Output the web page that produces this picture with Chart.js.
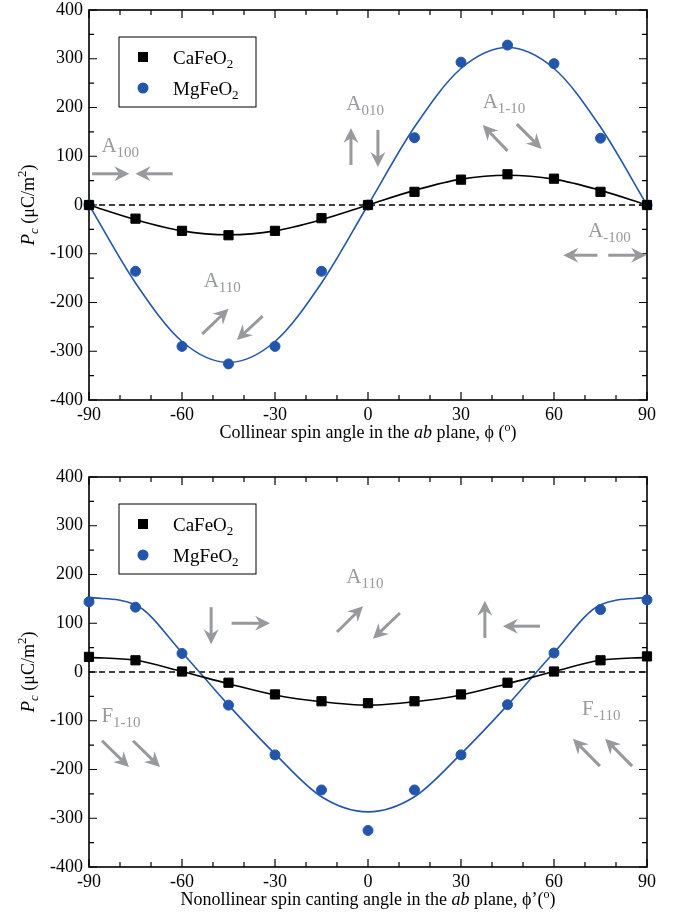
<!DOCTYPE html>
<html>
<head>
<meta charset="utf-8">
<script src="https://cdn.jsdelivr.net/npm/chart.js@4.4.0/dist/chart.umd.min.js"></script>
<style>
  body { margin: 0; background: #fff; overflow: hidden; }
  .panel { position: absolute; left: 0; width: 690px; }
</style>
</head>
<body>
<div class="panel" style="top:-10px;height:468px"><canvas id="collinear" width="690" height="468"></canvas></div>
<div class="panel" style="top:458px;height:458px"><canvas id="canting" width="690" height="458"></canvas></div>
<script>
const angles = [-90, -75, -60, -45, -30, -15, 0, 15, 30, 45, 60, 75, 90];

// top panel: collinear spins
const caCollinear = [0, -28, -53, -62, -53, -27, 0, 27, 52, 63, 54, 27, 0];
const mgCollinear = [0, -136, -290, -326, -290, -136, 0, 138, 293, 328, 290, 137, 0];
const caCollinearFit = [0, -30, -53, -61, -53, -30, 0, 30, 53, 61, 53, 30, 0];
const mgCollinearFit = [0, -160, -280, -323, -280, -160, 0, 160, 280, 323, 280, 160, 0];

// bottom panel: canted spins
const caCanting = [31, 24, 1, -22, -46, -60, -64, -60, -46, -22, 1, 24, 32];
const mgCanting = [144, 133, 38, -68, -170, -242, -325, -242, -170, -67, 39, 128, 148];
const caCantingFit = [30, 24, 1, -24, -47, -61, -68, -61, -47, -24, 1, 24, 30];
const mgCantingFit = [153, 138, 40, -68, -168, -256, -287, -256, -168, -68, 40, 138, 153];

const xTicks = [-90, -60, -30, 0, 30, 60, 90];
const yTicks = [-400, -300, -200, -100, 0, 100, 200, 300, 400];
const seriesNames = ["CaFeO2", "MgFeO2"];

const BLUE = "#2356ab";
const GREY = "#98999c";
const SERIF = "'Liberation Serif', 'Times New Roman', serif";

const collinearNotes = {
  labels: [["A", "100", -86, 109], ["A", "010", -7, 195], ["A", "1-10", 37, 199], ["A", "-100", 71, -66], ["A", "110", -53, -168]],
  arrows: [
    [-89, 64, -77, 64], [-63, 64, -75, 64],
    [-5.5, 82, -5.5, 158], [3.2, 154, 3.2, 78],
    [45, 111, 37, 164], [48, 166, 56, 115],
    [74, -103, 63, -103], [77.5, -103, 89.7, -103],
    [-53.5, -265, -45, -213], [-34, -228, -42.3, -277],
  ],
};
const cantingNotes = {
  labels: [["A", "110", -7, 183], ["F", "1-10", -86, -103], ["F", "-110", 69, -88]],
  arrows: [
    [-50.6, 133, -50.6, 57], [-44, 100, -31.6, 100],
    [-10, 82, -1.6, 135], [10.3, 121, 1.6, 68],
    [37.7, 70, 37.7, 146], [55.5, 94, 43.5, 94],
    [-85.8, -141, -77.1, -195], [-75.8, -141, -67.1, -195],
    [74.8, -193, 66.1, -137], [85.2, -193, 76.5, -137],
  ],
};

const toXY = (arr) => angles.map((a, i) => ({ x: a, y: arr[i] }));

// split each major interval into n parts -> [value, isMajor]
const subdivide = (ticks, n) => {
  const out = [];
  ticks.forEach((t, i) => {
    out.push([t, true]);
    if (i < ticks.length - 1) {
      const step = (ticks[i + 1] - t) / n;
      for (let k = 1; k < n; k++) out.push([t + k * step, false]);
    }
  });
  return out;
};

const fontOf = (p) => (p.italic ? "italic " : "") + (p.size || 18) + "px " + SERIF;

const drawRich = (ctx, parts, x, y, align) => {
  let w = 0;
  parts.forEach((p) => { ctx.font = fontOf(p); w += ctx.measureText(p.t).width; });
  let cx = align === "center" ? x - w / 2 : x;
  ctx.textAlign = "left";
  ctx.textBaseline = "alphabetic";
  parts.forEach((p) => {
    ctx.font = fontOf(p);
    ctx.fillText(p.t, cx, y + (p.dy || 0));
    cx += ctx.measureText(p.t).width;
  });
};

const drawArrow = (ctx, x1, y1, x2, y2) => {
  const ang = Math.atan2(y2 - y1, x2 - x1);
  const head = 15, half = 7.5, notch = 10;
  const bx = x2 - notch * Math.cos(ang), by = y2 - notch * Math.sin(ang);
  ctx.beginPath();
  ctx.moveTo(x1, y1);
  ctx.lineTo(bx, by);
  ctx.stroke();
  const hx = x2 - head * Math.cos(ang), hy = y2 - head * Math.sin(ang);
  ctx.beginPath();
  ctx.moveTo(x2, y2);
  ctx.lineTo(hx - half * Math.sin(ang), hy + half * Math.cos(ang));
  ctx.lineTo(bx, by);
  ctx.lineTo(hx + half * Math.sin(ang), hy - half * Math.cos(ang));
  ctx.closePath();
  ctx.fill();
};

const framePlugin = {
  id: "frame",
  beforeDatasetsDraw(chart) {
    const { ctx, chartArea: a, scales: { x, y } } = chart;
    ctx.save();
    ctx.strokeStyle = "#000";
    ctx.lineWidth = 1.2;
    ctx.beginPath();
    subdivide(xTicks, 3).forEach(([v, major]) => {
      const px = x.getPixelForValue(v), len = major ? 8 : 5;
      ctx.moveTo(px, a.bottom); ctx.lineTo(px, a.bottom - len);
      ctx.moveTo(px, a.top); ctx.lineTo(px, a.top + len);
    });
    subdivide(yTicks, 2).forEach(([v, major]) => {
      const py = y.getPixelForValue(v), len = major ? 8 : 5;
      ctx.moveTo(a.left, py); ctx.lineTo(a.left + len, py);
      ctx.moveTo(a.right, py); ctx.lineTo(a.right - len, py);
    });
    ctx.stroke();
    ctx.lineWidth = 1.6;
    ctx.strokeRect(a.left, a.top, a.right - a.left, a.bottom - a.top);
    ctx.restore();
  },
  afterDatasetsDraw(chart, args, opts) {
    const { ctx, scales: { x, y } } = chart;
    ctx.save();
    ctx.fillStyle = GREY;
    ctx.strokeStyle = GREY;
    ctx.lineWidth = 3;
    opts.notes.labels.forEach(([main, sub, vx, vy]) => {
      drawRich(ctx, [{ t: main, size: 21 }, { t: sub, size: 15, dy: 5 }], x.getPixelForValue(vx), y.getPixelForValue(vy));
    });
    opts.notes.arrows.forEach(([x1, y1, x2, y2]) => {
      drawArrow(ctx, x.getPixelForValue(x1), y.getPixelForValue(y1), x.getPixelForValue(x2), y.getPixelForValue(y2));
    });
    ctx.restore();
  },
  afterDraw(chart, args, opts) {
    const { ctx, chartArea: a } = chart;
    ctx.save();
    ctx.fillStyle = "#000";

    // legend box
    const lx = a.left + 30, ly = a.top + 27;
    ctx.lineWidth = 1;
    ctx.strokeStyle = "#000";
    ctx.strokeRect(lx, ly, 137, 70);
    seriesNames.forEach((name, i) => {
      const my = ly + 20 + i * 31;
      if (i === 0) {
        ctx.fillStyle = "#000";
        ctx.fillRect(lx + 19, my - 5, 10, 10);
      } else {
        ctx.fillStyle = BLUE;
        ctx.beginPath();
        ctx.arc(lx + 24, my, 5.5, 0, Math.PI * 2);
        ctx.fill();
      }
      ctx.fillStyle = "#000";
      drawRich(ctx, [{ t: name.slice(0, -1), size: 19 }, { t: name.slice(-1), size: 13, dy: 4 }], lx + 54, my + 7);
    });

    // x title
    drawRich(ctx, opts.xTitle, (a.left + a.right) / 2, a.bottom + 38, "center");

    // y title
    ctx.translate(34, (a.top + a.bottom) / 2);
    ctx.rotate(-Math.PI / 2);
    drawRich(ctx, [
      { t: "P", italic: true, size: 19 },
      { t: "c", italic: true, size: 13, dy: 4 },
      { t: " (μC/m", size: 18 },
      { t: "2", size: 13, dy: -8 },
      { t: ")", size: 18 },
    ], 0, 0, "center");
    ctx.restore();
  },
};

const makePanel = (id, ca, mg, caFit, mgFit, notes, xTitle, padTop, xHeight) => {
  new Chart(document.getElementById(id), {
    type: "scatter",
    data: {
      datasets: [
        { data: toXY(ca), pointStyle: "rect", pointRadius: 6.5, pointBorderWidth: 1, backgroundColor: "#000", borderColor: "#000", showLine: false, clip: false, order: 0 },
        { data: toXY(mg), pointStyle: "circle", pointRadius: 5, pointBorderWidth: 1, backgroundColor: BLUE, borderColor: BLUE, showLine: false, clip: false, order: 0 },
        { data: toXY(caFit), showLine: true, pointRadius: 0, borderColor: "#000", borderWidth: 1.6, cubicInterpolationMode: "monotone", order: 1 },
        { data: toXY(mgFit), showLine: true, pointRadius: 0, borderColor: BLUE, borderWidth: 1.6, cubicInterpolationMode: "monotone", order: 1 },
        { data: [{ x: angles[0], y: 0 }, { x: angles[angles.length - 1], y: 0 }], showLine: true, pointRadius: 0, borderColor: "#000", borderWidth: 1.5, borderDash: [6, 4], order: 2 },
      ],
    },
    options: {
      responsive: false,
      animation: false,
      events: [],
      layout: { padding: { left: 0, right: 43, top: padTop, bottom: 0 } },
      plugins: {
        legend: { display: false },
        tooltip: { enabled: false },
        frame: { notes: notes, xTitle: xTitle },
      },
      scales: {
        x: {
          type: "linear",
          min: -90,
          max: 90,
          afterBuildTicks: (s) => { s.ticks = xTicks.map((v) => ({ value: v })); },
          afterFit: (s) => { s.height = xHeight; },
          grid: { display: false, drawTicks: false },
          border: { display: false },
          ticks: { padding: 4, color: "#000", autoSkip: false, maxRotation: 0, font: { family: SERIF, size: 18 } },
        },
        y: {
          type: "linear",
          min: -400,
          max: 400,
          afterBuildTicks: (s) => { s.ticks = yTicks.map((v) => ({ value: v })); },
          afterFit: (s) => { s.width = 89; },
          grid: { display: false, drawTicks: false },
          border: { display: false },
          ticks: { padding: 6, color: "#000", font: { family: SERIF, size: 18 } },
        },
      },
    },
    plugins: [framePlugin],
  });
};

makePanel("collinear", caCollinear, mgCollinear, caCollinearFit, mgCollinearFit, collinearNotes, [
  { t: "Collinear spin angle in the " },
  { t: "ab", italic: true },
  { t: " plane, ϕ (" },
  { t: "o", size: 12, dy: -7 },
  { t: ")" },
], 20, 58);

makePanel("canting", caCanting, mgCanting, caCantingFit, mgCantingFit, cantingNotes, [
  { t: "Nonollinear spin canting angle in the " },
  { t: "ab", italic: true },
  { t: " plane, ϕ’(" },
  { t: "o", size: 12, dy: -7 },
  { t: ")" },
], 19, 49);
</script>
</body>
</html>
